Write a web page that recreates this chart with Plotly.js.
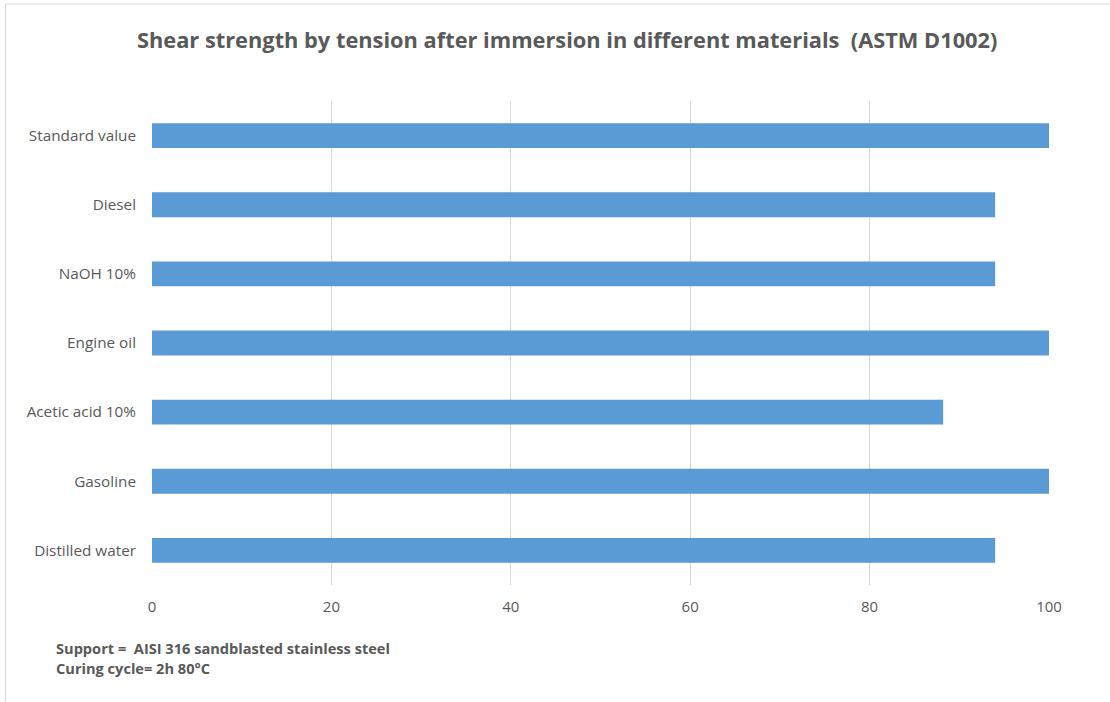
<!DOCTYPE html>
<html>
<head>
<meta charset="utf-8">
<script src="https://cdn.plot.ly/plotly-3.0.1.min.js"></script>
<style>
html,body{margin:0;padding:0;background:#fff;}
#chart{width:1110px;height:702px;}
</style>
</head>
<body>
<div id="chart"></div>
<script>
const categories = ["Distilled water", "Gasoline", "Acetic acid 10%", "Engine oil", "NaOH 10%", "Diesel", "Standard value"];
const values = [94, 100, 88.2, 100, 94, 94, 100];
const xTicks = [0, 20, 40, 60, 80, 100];
const titleText = "Shear strength by tension after immersion in different materials&nbsp;&nbsp;(ASTM D1002)";
const noteLines = ["Support =&nbsp;&nbsp;AISI 316 sandblasted stainless steel", "Curing cycle= 2h 80°C"];

const font = "Open Sans, Noto Sans, sans-serif";
const trace = {
  type: "bar",
  orientation: "h",
  x: values,
  y: categories,
  marker: {color: "#5b9bd5", line: {width: 0}},
  hoverinfo: "x+y"
};
const layout = {
  width: 1110, height: 702,
  paper_bgcolor: "#fff", plot_bgcolor: "#fff",
  margin: {l: 152, r: 61, t: 101, b: 117},
  bargap: 0.64,
  showlegend: false,
  font: {family: font, color: "#595959", size: 15},
  title: {text: "<b>" + titleText + "</b>", x: 0.511, xanchor: "center", y: 0.943, yanchor: "middle", font: {family: font, size: 21.8, color: "#595959"}},
  xaxis: {range: [0, 100], tickvals: xTicks, ticktext: xTicks.map(String), showgrid: true, gridcolor: "#d9d9d9", gridwidth: 1, zeroline: false, showline: false, ticks: "", tickfont: {size: 15, color: "#595959"}, ticklabelstandoff: 11, fixedrange: true},
  yaxis: {type: "category", categoryorder: "array", categoryarray: categories, showgrid: false, zeroline: false, showline: false, ticks: "", tickfont: {size: 15.3, color: "#595959"}, ticklabelstandoff: 15, fixedrange: true},
  annotations: noteLines.map((t, i) => ({
    text: "<b>" + t + "</b>", xref: "paper", yref: "paper", x: -0.1093, y: -0.1302 - i * 0.0413, xanchor: "left", yanchor: "middle", showarrow: false, font: {family: font, size: 14.6, color: "#595959"}
  })),
  shapes: [
    {type: "line", xref: "paper", yref: "paper", x0: -0.1633, x1: -0.1633, y0: -0.25, y1: 1.2004, line: {color: "#d9d9d9", width: 1.2}},
    {type: "line", xref: "paper", yref: "paper", x0: -0.1633, x1: 1.07, y0: 1.2004, y1: 1.2004, line: {color: "#d9d9d9", width: 1.2}}
  ]
};
Plotly.newPlot("chart", [trace], layout, {displayModeBar: false, responsive: false});
</script>
</body>
</html>
